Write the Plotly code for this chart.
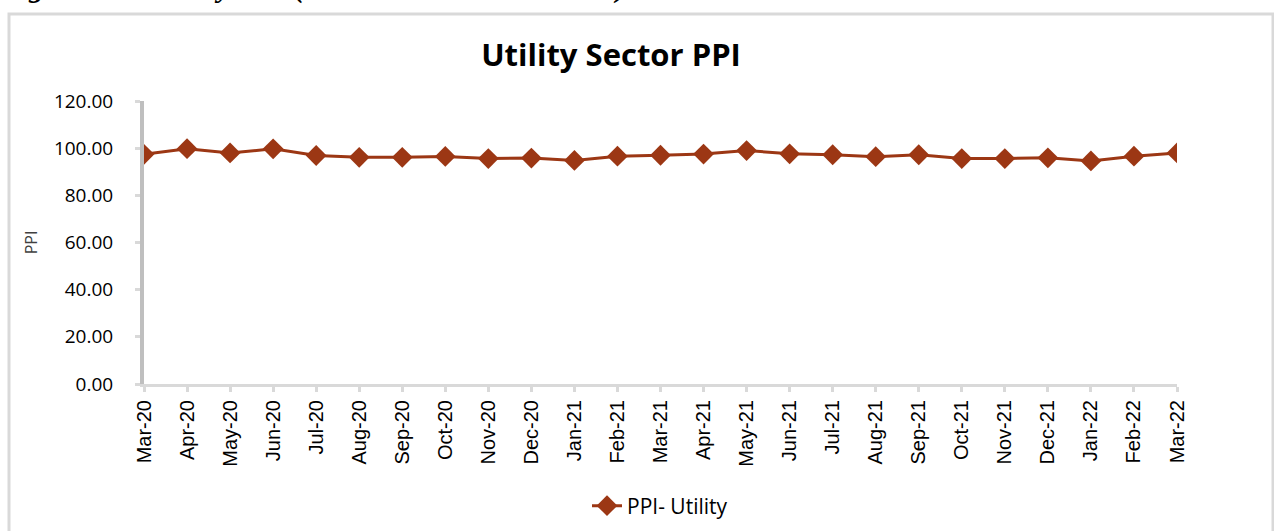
import plotly.graph_objects as go

months = ["Mar-20", "Apr-20", "May-20", "Jun-20", "Jul-20", "Aug-20", "Sep-20", "Oct-20",
          "Nov-20", "Dec-20", "Jan-21", "Feb-21", "Mar-21", "Apr-21", "May-21", "Jun-21",
          "Jul-21", "Aug-21", "Sep-21", "Oct-21", "Nov-21", "Dec-21", "Jan-22", "Feb-22", "Mar-22"]
ppi_utility = [97.4, 99.8, 98.0, 99.7, 96.9, 96.1, 96.1, 96.5, 95.6, 95.8, 94.8, 96.6, 97.0,
               97.5, 99.0, 97.6, 97.2, 96.4, 97.2, 95.6, 95.6, 95.9, 94.6, 96.6, 98.0]
y_ticks = [0, 20, 40, 60, 80, 100, 120]

W, H = 1274, 531
L, R, T, B = 144, 97, 101, 147
pw, ph = W - L - R, H - T - B

def px(x):
    return (x - L) / pw

def py(y):
    return (H - B - y) / ph

color = "#9c3714"
fig = go.Figure()
fig.add_trace(go.Scatter(
    x=list(range(len(months))), y=ppi_utility, mode="lines+markers",
    name="PPI- Utility",
    line=dict(color=color, width=3),
    marker=dict(symbol="diamond", size=16, color=color),
))

fig.update_layout(
    width=W, height=H,
    margin=dict(l=L, r=R, t=T, b=B, autoexpand=False),
    paper_bgcolor="white", plot_bgcolor="white",
    title=dict(text="<b>Utility Sector PPI</b>", x=611 / W, xanchor="center",
               y=1 - 55 / H, yanchor="middle",
               font=dict(family="Open Sans", size=31, color="#000000")),
    xaxis=dict(
        range=[0, len(months) - 1],
        tickmode="array", tickvals=list(range(len(months))), ticktext=months,
        tickangle=-90, ticks="outside", ticklen=5, tickwidth=3, tickcolor="#d9d9d9",
        showline=True, linecolor="#d9d9d9", linewidth=3,
        showgrid=False, zeroline=False,
        tickfont=dict(family="Liberation Sans", size=20, color="#000000"),
    ),
    yaxis=dict(
        range=[0, 120], tickvals=y_ticks,
        tickformat=".2f", ticks="outside", ticklen=5, tickwidth=3, tickcolor="#d9d9d9",
        showline=True, linecolor="#bfbfbf", linewidth=4,
        showgrid=False, zeroline=False,
        ticklabelstandoff=18,
        tickfont=dict(family="Open Sans", size=19, color="#000000"),
        title=dict(text="PPI", font=dict(family="Open Sans", size=16, color="#404040"), standoff=13),
    ),
    showlegend=True,
    legend=dict(orientation="h", x=px(660), xanchor="center", y=py(506), yanchor="middle",
                font=dict(family="Open Sans", size=21, color="#000000"),
                bgcolor="rgba(0,0,0,0)"),
    shapes=[dict(type="rect", xref="paper", yref="paper",
                 x0=px(9), x1=px(1273), y0=py(560), y1=py(14),
                 line=dict(color="#d9d9d9", width=3), fillcolor="rgba(0,0,0,0)", layer="below")],
    annotations=[dict(text="<b><i>Figure 1: Monthly PPI (March 2020-March 2022)</i></b>",
                      xref="paper", yref="paper", x=px(-2), xanchor="left",
                      y=py(6), yanchor="bottom", showarrow=False,
                      font=dict(family="Liberation Serif", size=30, color="#000000"))],
)

fig.write_html("out.html", config={"displayModeBar": False},
               post_script="document.body.style.margin='0';document.body.style.overflow='hidden';")
